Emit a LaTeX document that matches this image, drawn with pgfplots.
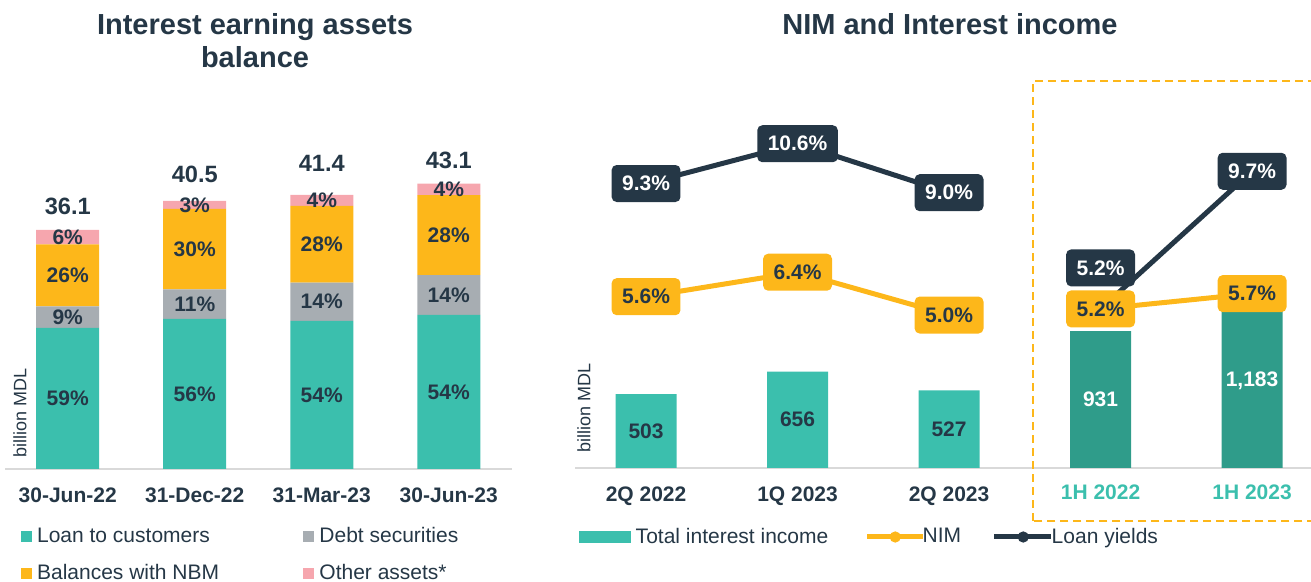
\documentclass[border=0pt]{standalone}
\usepackage{pgfplots}
\pgfplotsset{compat=1.18}
\usepackage{pgfplotstable}
\usepackage{fontspec}
\setmainfont{Liberation Sans}
\definecolor{cteal}{HTML}{3BBFAD}
\definecolor{cdteal}{HTML}{2F9C8A}
\definecolor{cgray}{HTML}{A7ADB2}
\definecolor{corange}{HTML}{FDB71A}
\definecolor{cpink}{HTML}{F6A6AE}
\definecolor{cnavy}{HTML}{253746}
\definecolor{caxis}{HTML}{D9D9D9}
\newcommand{\fTitle}{\fontsize{14.5}{16}\selectfont\bfseries}
\newcommand{\fLab}{\fontsize{10.5}{12}\selectfont\bfseries}
\newcommand{\fTot}{\fontsize{11.8}{13}\selectfont\bfseries}
\newcommand{\fLeg}{\fontsize{10.5}{12}\selectfont}
\newcommand{\fSmall}{\fontsize{9}{10}\selectfont}

\pgfplotstableread{
x loans debt nbm other ploans pdebt pnbm pother
0 21.30 3.25 9.39 2.17 59 9 26 6
1 22.68 4.46 12.15 1.22 56 11 30 3
2 22.36 5.80 11.59 1.66 54 14 28 4
3 23.27 6.03 12.07 1.72 54 14 28 4
}\tblAssets

\pgfplotstableread{
x v lab
0 503 503
1 656 656
2 527 527
}\tblQ
\pgfplotstableread{
x v lab
3 931 931
4 1183 1,183
}\tblH
\pgfplotstableread{
x y lab dy
0 5.6 5.6 0
1 6.4 6.4 0
2 5.0 5.0 0
2.5 nan none 0
3 5.2 5.2 0
4 5.7 5.7 0
}\tblNIM
\pgfplotstableread{
x y lab dy
0 9.3 9.3 0
1 10.6 10.6 0
2 9.0 9.0 0
2.5 nan none 0
3 5.2 5.2 20.5
4 9.7 9.7 0
}\tblLY

\begin{document}
\begin{tikzpicture}
\path[use as bounding box] (0,0) rectangle (655.5pt,291pt);

% titles
\node[anchor=base, text=cnavy, font=\fTitle, inner sep=0pt] at (127.5pt,273.5pt) {Interest earning assets};
\node[anchor=base, text=cnavy, font=\fTitle, inner sep=0pt] at (127.5pt,257pt) {balance};
\node[anchor=base, text=cnavy, font=\fTitle, inner sep=0pt] at (475pt,273.5pt) {NIM and Interest income};

% ---------------- left panel ----------------
\begin{axis}[
  at={(2.5pt,56.5pt)}, anchor=south west, scale only axis,
  width=253.5pt, height=184.5pt,
  xmin=-0.494, xmax=3.498, ymin=0, ymax=55.74,
  ybar stacked, bar width=31.5pt,
  axis y line=none, axis x line*=bottom,
  x axis line style={draw=caxis, line width=1pt},
  xtick={0,1,2,3},
  xticklabels={30-Jun-22,31-Dec-22,31-Mar-23,30-Jun-23},
  xtick style={draw=none},
  xticklabel style={font=\fLab, text=cnavy, anchor=base, yshift=-17pt},
  clip=false,
  nodes near coords={\pgfplotspointmeta\%},
  point meta=explicit symbolic,
  every node near coord/.append style={font=\fLab, text=cnavy, anchor=center},
  legend columns=2,
  legend style={draw=none, fill=none, at={(0.031,-0.157)}, anchor=north west,
    inner sep=0pt, column sep=0pt, row sep=9.3pt, font=\fLeg, text=cnavy,
    nodes={inner sep=0pt}, cells={anchor=west}},
]
\addplot[fill=cteal, draw=none,
  legend image code/.code={\fill[cteal] (0pt,-2.75pt) rectangle (5.5pt,2.75pt);}]
  table[x=x, y=loans, meta=ploans] {\tblAssets};
\addlegendentry{\makebox[135.65pt][l]{\hspace{2.5pt}Loan to customers}}
\addplot[fill=cgray, draw=none,
  legend image code/.code={\fill[cgray] (0pt,-2.75pt) rectangle (5.5pt,2.75pt);}]
  table[x=x, y=debt, meta=pdebt] {\tblAssets};
\addlegendentry{\hspace{2.5pt}Debt securities}
\addplot[fill=corange, draw=none,
  legend image code/.code={\fill[corange] (0pt,-2.75pt) rectangle (5.5pt,2.75pt);}]
  table[x=x, y=nbm, meta=pnbm] {\tblAssets};
\addlegendentry{\makebox[135.65pt][l]{\hspace{2.5pt}Balances with NBM}}
\addplot[fill=cpink, draw=none,
  legend image code/.code={\fill[cpink] (0pt,-2.75pt) rectangle (5.5pt,2.75pt);}]
  table[x=x, y=other, meta=pother] {\tblAssets};
\addlegendentry{\hspace{2.5pt}Other assets*}
% totals
\node[anchor=base, font=\fTot, text=cnavy] at (axis cs:0,36.1) [yshift=7.85pt] {36.1};
\node[anchor=base, font=\fTot, text=cnavy] at (axis cs:1,40.5) [yshift=9pt] {40.5};
\node[anchor=base, font=\fTot, text=cnavy] at (axis cs:2,41.4) [yshift=11.5pt] {41.4};
\node[anchor=base, font=\fTot, text=cnavy] at (axis cs:3,43.1) [yshift=7.5pt] {43.1};
\node[rotate=90, font=\fSmall, text=cnavy] at (rel axis cs:0.0296,0.152) {billion MDL};
\end{axis}

% ---------------- right panel: bars ----------------
\begin{axis}[
  at={(287.5pt,57pt)}, anchor=south west, scale only axis,
  width=368pt, height=184pt,
  xmin=-0.469, xmax=4.389, ymin=0, ymax=2502,
  ybar, bar width=30.5pt,
  axis y line=none, axis x line*=bottom,
  x axis line style={draw=caxis, line width=1pt},
  xtick={0,1,2,3,4},
  xticklabels={2Q 2022,1Q 2023,2Q 2023,{\raisebox{1pt}{\textcolor{cteal}{1H 2022}}},{\raisebox{1pt}{\textcolor{cteal}{1H 2023}}}},
  xtick style={draw=none},
  xticklabel style={font=\fLab, text=cnavy, anchor=base, yshift=-12.5pt},
  clip=false,
  nodes near coords={\pgfplotspointmeta},
  point meta=explicit symbolic,
]
\addplot[fill=cteal, draw=none, bar shift=0pt,
  visualization depends on={\thisrow{v} \as \segv},
  every node near coord/.append style={font=\fLab, text=cnavy, anchor=center, yshift={-0.03677pt*\segv}}]
  table[x=x, y=v, meta=lab] {\tblQ};
\addplot[fill=cdteal, draw=none, bar shift=0pt,
  visualization depends on={\thisrow{v} \as \segv},
  every node near coord/.append style={font=\fLab, text=white, anchor=center, yshift={-0.03677pt*\segv}}]
  table[x=x, y=v, meta=lab] {\tblH};
\node[rotate=90, font=\fSmall, text=cnavy] at (rel axis cs:0.0122,0.163) {billion MDL};
\draw[corange, line width=1.25pt, dash pattern=on 4pt off 2.5pt]
  (rel axis cs:0.6223,-0.144) rectangle (rel axis cs:1.02,1.0516);
\end{axis}

% ---------------- right panel: lines ----------------
\begin{axis}[
  at={(287.5pt,57pt)}, anchor=south west, scale only axis,
  width=368pt, height=184pt,
  xmin=-0.469, xmax=4.389, ymin=0, ymax=12.03,
  hide axis, clip=false,
  unbounded coords=jump,
  legend columns=-1,
  legend style={draw=none, fill=none, at={(0.0048,-0.1875)}, anchor=west,
    inner sep=0pt, column sep=0pt, font=\fLeg, text=cnavy,
    nodes={inner sep=0pt}, cells={anchor=west}},
]
\addlegendimage{legend image code/.code={\fill[cteal] (0pt,-2.75pt) rectangle (25.5pt,2.75pt);}}
\addlegendentry{\makebox[117pt][l]{\hspace{2.5pt}Total interest income}}
\addlegendimage{legend image code/.code={\draw[corange, line width=2.5pt] (0pt,0pt) -- (28pt,0pt); \fill[corange] (14pt,0pt) circle (2.6pt);}}
\addlegendentry{\makebox[33pt][l]{\hspace{-1.5pt}NIM}}
\addlegendimage{legend image code/.code={\draw[cnavy, line width=2.5pt] (0pt,0pt) -- (28.5pt,0pt); \fill[cnavy] (14.5pt,0pt) circle (2.6pt);}}
\addlegendentry{\hspace{-1pt}Loan yields}

\addplot[cnavy, line width=2.5pt, mark=none, forget plot,
  nodes near coords={\pgfplotspointmeta\%}, point meta=explicit symbolic,
  visualization depends on={\thisrow{dy} \as \dy},
  every node near coord/.append style={anchor=center, fill=cnavy, text=white,
    rounded corners=2.5pt, inner xsep=5.25pt, inner ysep=0pt, minimum height=18.5pt,
    font=\fLab, yshift={\dy*1pt}}]
  table[x=x, y=y, meta=lab] {\tblLY};
\addplot[corange, line width=2.5pt, mark=none, forget plot,
  nodes near coords={\pgfplotspointmeta\%}, point meta=explicit symbolic,
  visualization depends on={\thisrow{dy} \as \dy},
  every node near coord/.append style={anchor=center, fill=corange, text=cnavy,
    rounded corners=2.5pt, inner xsep=5.25pt, inner ysep=0pt, minimum height=18.5pt,
    font=\fLab, yshift={\dy*1pt}}]
  table[x=x, y=y, meta=lab] {\tblNIM};
\end{axis}
\end{tikzpicture}
\end{document}
